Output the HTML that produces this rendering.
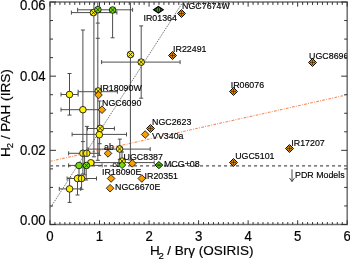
<!DOCTYPE html>
<html><head><meta charset="utf-8"><style>
html,body{margin:0;padding:0;background:#fff;}
svg{display:block;font-family:"Liberation Sans",sans-serif;}
</style></head><body>
<svg width="350" height="259" viewBox="0 0 350 259">
<rect width="350" height="259" fill="#fff"/>
<defs><clipPath id="pc"><rect x="50.0" y="2.0" width="297.2" height="222.5"/></clipPath></defs>
<g clip-path="url(#pc)">
<line x1="50.0" y1="208.4" x2="182.9" y2="2.0" stroke="#333" stroke-width="0.8" stroke-dasharray="1.1 1.1"/>
<line x1="50.0" y1="161.3" x2="347.2" y2="94.8" stroke="#f8895a" stroke-width="1.1" stroke-dasharray="2.7 1.3 0.9 1.3"/>
<line x1="50.0" y1="165.8" x2="347.2" y2="165.8" stroke="#555" stroke-width="1.2" stroke-dasharray="3.1 2.9"/>
<line x1="82.90" y1="30.00" x2="82.90" y2="141.60" stroke="#4d4d4d" stroke-width="1.0" />
<line x1="80.90" y1="30.00" x2="84.90" y2="30.00" stroke="#4d4d4d" stroke-width="1.0" />
<line x1="80.90" y1="141.60" x2="84.90" y2="141.60" stroke="#4d4d4d" stroke-width="1.0" />
<line x1="82.90" y1="141.60" x2="82.90" y2="153.30" stroke="#4d4d4d" stroke-width="1.0" />
<line x1="69.60" y1="178.00" x2="69.60" y2="188.90" stroke="#4d4d4d" stroke-width="1.0" />
<line x1="67.60" y1="178.00" x2="71.60" y2="178.00" stroke="#4d4d4d" stroke-width="1.0" />
<line x1="93.90" y1="2.00" x2="93.90" y2="156.80" stroke="#4d4d4d" stroke-width="1.0" />
<line x1="91.90" y1="156.80" x2="95.90" y2="156.80" stroke="#4d4d4d" stroke-width="1.0" />
<line x1="97.80" y1="2.00" x2="97.80" y2="23.10" stroke="#4d4d4d" stroke-width="1.0" />
<line x1="95.80" y1="23.10" x2="99.80" y2="23.10" stroke="#4d4d4d" stroke-width="1.0" />
<line x1="97.80" y1="23.10" x2="97.80" y2="38.30" stroke="#4d4d4d" stroke-width="1.0" />
<line x1="95.80" y1="38.30" x2="99.80" y2="38.30" stroke="#4d4d4d" stroke-width="1.0" />
<line x1="97.80" y1="38.30" x2="97.80" y2="160.30" stroke="#4d4d4d" stroke-width="1.0" />
<line x1="95.80" y1="160.30" x2="99.80" y2="160.30" stroke="#4d4d4d" stroke-width="1.0" />
<line x1="112.60" y1="10.00" x2="112.60" y2="37.80" stroke="#4d4d4d" stroke-width="1.0" />
<line x1="110.60" y1="37.80" x2="114.60" y2="37.80" stroke="#4d4d4d" stroke-width="1.0" />
<line x1="130.40" y1="2.00" x2="130.40" y2="160.00" stroke="#4d4d4d" stroke-width="1.0" />
<line x1="128.40" y1="160.00" x2="132.40" y2="160.00" stroke="#4d4d4d" stroke-width="1.0" />
<line x1="141.20" y1="25.90" x2="141.20" y2="98.20" stroke="#4d4d4d" stroke-width="1.0" />
<line x1="139.20" y1="25.90" x2="143.20" y2="25.90" stroke="#4d4d4d" stroke-width="1.0" />
<line x1="139.20" y1="98.20" x2="143.20" y2="98.20" stroke="#4d4d4d" stroke-width="1.0" />
<line x1="69.50" y1="73.50" x2="69.50" y2="115.10" stroke="#4d4d4d" stroke-width="1.0" />
<line x1="67.50" y1="73.50" x2="71.50" y2="73.50" stroke="#4d4d4d" stroke-width="1.0" />
<line x1="67.50" y1="115.10" x2="71.50" y2="115.10" stroke="#4d4d4d" stroke-width="1.0" />
<line x1="86.90" y1="126.40" x2="86.90" y2="153.30" stroke="#4d4d4d" stroke-width="1.0" />
<line x1="84.90" y1="126.40" x2="88.90" y2="126.40" stroke="#4d4d4d" stroke-width="1.0" />
<line x1="99.60" y1="101.00" x2="99.60" y2="143.70" stroke="#4d4d4d" stroke-width="1.0" />
<line x1="97.60" y1="101.00" x2="101.60" y2="101.00" stroke="#4d4d4d" stroke-width="1.0" />
<line x1="97.60" y1="143.70" x2="101.60" y2="143.70" stroke="#4d4d4d" stroke-width="1.0" />
<line x1="119.80" y1="139.10" x2="119.80" y2="159.40" stroke="#4d4d4d" stroke-width="1.0" />
<line x1="117.80" y1="139.10" x2="121.80" y2="139.10" stroke="#4d4d4d" stroke-width="1.0" />
<line x1="117.80" y1="159.40" x2="121.80" y2="159.40" stroke="#4d4d4d" stroke-width="1.0" />
<line x1="122.00" y1="152.00" x2="122.00" y2="159.40" stroke="#4d4d4d" stroke-width="1.0" />
<line x1="120.00" y1="152.00" x2="124.00" y2="152.00" stroke="#4d4d4d" stroke-width="1.0" />
<line x1="120.00" y1="159.40" x2="124.00" y2="159.40" stroke="#4d4d4d" stroke-width="1.0" />
<line x1="69.60" y1="188.90" x2="69.60" y2="202.40" stroke="#4d4d4d" stroke-width="1.0" />
<line x1="67.60" y1="202.40" x2="71.60" y2="202.40" stroke="#4d4d4d" stroke-width="1.0" />
<line x1="77.50" y1="178.50" x2="77.50" y2="195.00" stroke="#4d4d4d" stroke-width="1.0" />
<line x1="75.50" y1="195.00" x2="79.50" y2="195.00" stroke="#4d4d4d" stroke-width="1.0" />
<line x1="81.60" y1="178.50" x2="81.60" y2="189.30" stroke="#4d4d4d" stroke-width="1.0" />
<line x1="79.60" y1="189.30" x2="83.60" y2="189.30" stroke="#4d4d4d" stroke-width="1.0" />
<line x1="86.20" y1="165.50" x2="86.20" y2="180.00" stroke="#4d4d4d" stroke-width="1.0" />
<line x1="84.20" y1="180.00" x2="88.20" y2="180.00" stroke="#4d4d4d" stroke-width="1.0" />
<line x1="82.90" y1="153.30" x2="82.90" y2="174.00" stroke="#4d4d4d" stroke-width="1.0" />
<line x1="80.90" y1="174.00" x2="84.90" y2="174.00" stroke="#4d4d4d" stroke-width="1.0" />
<line x1="84.60" y1="153.30" x2="84.60" y2="174.80" stroke="#4d4d4d" stroke-width="1.0" />
<line x1="82.60" y1="174.80" x2="86.60" y2="174.80" stroke="#4d4d4d" stroke-width="1.0" />
<line x1="79.00" y1="165.50" x2="79.00" y2="175.00" stroke="#4d4d4d" stroke-width="1.0" />
<line x1="77.00" y1="175.00" x2="81.00" y2="175.00" stroke="#4d4d4d" stroke-width="1.0" />
<line x1="99.20" y1="143.70" x2="99.20" y2="155.40" stroke="#4d4d4d" stroke-width="1.0" />
<line x1="97.20" y1="155.40" x2="101.20" y2="155.40" stroke="#4d4d4d" stroke-width="1.0" />
<line x1="71.40" y1="12.60" x2="116.90" y2="12.60" stroke="#4d4d4d" stroke-width="1.0" />
<line x1="71.40" y1="10.60" x2="71.40" y2="14.60" stroke="#4d4d4d" stroke-width="1.0" />
<line x1="116.90" y1="10.60" x2="116.90" y2="14.60" stroke="#4d4d4d" stroke-width="1.0" />
<line x1="77.60" y1="9.80" x2="132.60" y2="9.80" stroke="#4d4d4d" stroke-width="1.0" />
<line x1="77.60" y1="7.80" x2="77.60" y2="11.80" stroke="#4d4d4d" stroke-width="1.0" />
<line x1="132.60" y1="7.80" x2="132.60" y2="11.80" stroke="#4d4d4d" stroke-width="1.0" />
<line x1="101.60" y1="62.10" x2="180.10" y2="62.10" stroke="#4d4d4d" stroke-width="1.0" />
<line x1="101.60" y1="60.10" x2="101.60" y2="64.10" stroke="#4d4d4d" stroke-width="1.0" />
<line x1="180.10" y1="60.10" x2="180.10" y2="64.10" stroke="#4d4d4d" stroke-width="1.0" />
<line x1="78.10" y1="91.70" x2="117.40" y2="91.70" stroke="#4d4d4d" stroke-width="1.0" />
<line x1="78.10" y1="89.70" x2="78.10" y2="93.70" stroke="#4d4d4d" stroke-width="1.0" />
<line x1="117.40" y1="89.70" x2="117.40" y2="93.70" stroke="#4d4d4d" stroke-width="1.0" />
<line x1="61.00" y1="94.50" x2="78.10" y2="94.50" stroke="#4d4d4d" stroke-width="1.0" />
<line x1="61.00" y1="92.50" x2="61.00" y2="96.50" stroke="#4d4d4d" stroke-width="1.0" />
<line x1="78.10" y1="92.50" x2="78.10" y2="96.50" stroke="#4d4d4d" stroke-width="1.0" />
<line x1="61.00" y1="109.70" x2="102.00" y2="109.70" stroke="#4d4d4d" stroke-width="1.0" />
<line x1="61.00" y1="107.70" x2="61.00" y2="111.70" stroke="#4d4d4d" stroke-width="1.0" />
<line x1="87.50" y1="128.50" x2="114.40" y2="128.50" stroke="#4d4d4d" stroke-width="1.0" />
<line x1="87.50" y1="126.50" x2="87.50" y2="130.50" stroke="#4d4d4d" stroke-width="1.0" />
<line x1="114.40" y1="126.50" x2="114.40" y2="130.50" stroke="#4d4d4d" stroke-width="1.0" />
<line x1="72.10" y1="134.40" x2="126.50" y2="134.40" stroke="#4d4d4d" stroke-width="1.0" />
<line x1="72.10" y1="132.40" x2="72.10" y2="136.40" stroke="#4d4d4d" stroke-width="1.0" />
<line x1="126.50" y1="132.40" x2="126.50" y2="136.40" stroke="#4d4d4d" stroke-width="1.0" />
<line x1="88.00" y1="149.10" x2="150.20" y2="149.10" stroke="#4d4d4d" stroke-width="1.0" />
<line x1="88.00" y1="147.10" x2="88.00" y2="151.10" stroke="#4d4d4d" stroke-width="1.0" />
<line x1="150.20" y1="147.10" x2="150.20" y2="151.10" stroke="#4d4d4d" stroke-width="1.0" />
<line x1="68.60" y1="153.30" x2="99.30" y2="153.30" stroke="#4d4d4d" stroke-width="1.0" />
<line x1="68.60" y1="151.30" x2="68.60" y2="155.30" stroke="#4d4d4d" stroke-width="1.0" />
<line x1="99.30" y1="151.30" x2="99.30" y2="155.30" stroke="#4d4d4d" stroke-width="1.0" />
<line x1="94.00" y1="162.60" x2="154.20" y2="162.60" stroke="#4d4d4d" stroke-width="1.0" />
<line x1="94.00" y1="160.60" x2="94.00" y2="164.60" stroke="#4d4d4d" stroke-width="1.0" />
<line x1="154.20" y1="160.60" x2="154.20" y2="164.60" stroke="#4d4d4d" stroke-width="1.0" />
<line x1="68.60" y1="165.40" x2="102.10" y2="165.40" stroke="#4d4d4d" stroke-width="1.0" />
<line x1="68.60" y1="163.40" x2="68.60" y2="167.40" stroke="#4d4d4d" stroke-width="1.0" />
<line x1="102.10" y1="163.40" x2="102.10" y2="167.40" stroke="#4d4d4d" stroke-width="1.0" />
<line x1="67.10" y1="178.50" x2="96.50" y2="178.50" stroke="#4d4d4d" stroke-width="1.0" />
<line x1="67.10" y1="176.50" x2="67.10" y2="180.50" stroke="#4d4d4d" stroke-width="1.0" />
<line x1="96.50" y1="176.50" x2="96.50" y2="180.50" stroke="#4d4d4d" stroke-width="1.0" />
<line x1="59.30" y1="188.90" x2="80.70" y2="188.90" stroke="#4d4d4d" stroke-width="1.0" />
<line x1="59.30" y1="186.90" x2="59.30" y2="190.90" stroke="#4d4d4d" stroke-width="1.0" />
<line x1="80.70" y1="186.90" x2="80.70" y2="190.90" stroke="#4d4d4d" stroke-width="1.0" />
<circle cx="69.5" cy="94.5" r="3.3" fill="#fff000" stroke="#1a1a1a" stroke-width="0.9"/>
<circle cx="82.9" cy="109.7" r="3.3" fill="#fff000" stroke="#1a1a1a" stroke-width="0.9"/>
<circle cx="99.3" cy="134.7" r="3.3" fill="#fff000" stroke="#1a1a1a" stroke-width="0.9"/>
<circle cx="82.9" cy="153.3" r="3.3" fill="#fff000" stroke="#1a1a1a" stroke-width="0.9"/>
<circle cx="86.7" cy="153.3" r="3.3" fill="#fff000" stroke="#1a1a1a" stroke-width="0.9"/>
<circle cx="90.8" cy="162.8" r="3.3" fill="#fff000" stroke="#1a1a1a" stroke-width="0.9"/>
<circle cx="77.5" cy="178.5" r="3.3" fill="#fff000" stroke="#1a1a1a" stroke-width="0.9"/>
<circle cx="81.5" cy="178.5" r="3.3" fill="#fff000" stroke="#1a1a1a" stroke-width="0.9"/>
<circle cx="69.6" cy="188.9" r="3.3" fill="#fff000" stroke="#1a1a1a" stroke-width="0.9"/>
<circle cx="93.4" cy="12.6" r="3.3" fill="#fff000" stroke="#1a1a1a" stroke-width="0.9"/>
<line x1="90.76" y1="9.96" x2="96.04" y2="15.24" stroke="#222" stroke-width="0.8" />
<line x1="90.76" y1="15.24" x2="96.04" y2="9.96" stroke="#222" stroke-width="0.8" />
<circle cx="130.5" cy="54.5" r="3.3" fill="#fff000" stroke="#1a1a1a" stroke-width="0.9"/>
<line x1="127.86" y1="51.86" x2="133.14" y2="57.14" stroke="#222" stroke-width="0.8" />
<line x1="127.86" y1="57.14" x2="133.14" y2="51.86" stroke="#222" stroke-width="0.8" />
<circle cx="141.2" cy="62.1" r="3.3" fill="#fff000" stroke="#1a1a1a" stroke-width="0.9"/>
<line x1="138.56" y1="59.46" x2="143.84" y2="64.74" stroke="#222" stroke-width="0.8" />
<line x1="138.56" y1="64.74" x2="143.84" y2="59.46" stroke="#222" stroke-width="0.8" />
<circle cx="98.2" cy="91.0" r="3.3" fill="#fff000" stroke="#1a1a1a" stroke-width="0.9"/>
<line x1="95.56" y1="88.36" x2="100.84" y2="93.64" stroke="#222" stroke-width="0.8" />
<line x1="95.56" y1="93.64" x2="100.84" y2="88.36" stroke="#222" stroke-width="0.8" />
<circle cx="100.2" cy="128.4" r="3.3" fill="#fff000" stroke="#1a1a1a" stroke-width="0.9"/>
<line x1="97.56" y1="125.76" x2="102.84" y2="131.04" stroke="#222" stroke-width="0.8" />
<line x1="97.56" y1="131.04" x2="102.84" y2="125.76" stroke="#222" stroke-width="0.8" />
<circle cx="119.6" cy="149.0" r="3.3" fill="#fff000" stroke="#1a1a1a" stroke-width="0.9"/>
<line x1="116.96" y1="146.36" x2="122.24" y2="151.64" stroke="#222" stroke-width="0.8" />
<line x1="116.96" y1="151.64" x2="122.24" y2="146.36" stroke="#222" stroke-width="0.8" />
<circle cx="122.1" cy="161.1" r="3.3" fill="#fff000" stroke="#1a1a1a" stroke-width="0.9"/>
<line x1="119.46" y1="158.46" x2="124.74" y2="163.74" stroke="#222" stroke-width="0.8" />
<line x1="119.46" y1="163.74" x2="124.74" y2="158.46" stroke="#222" stroke-width="0.8" />
<circle cx="97.9" cy="9.7" r="3.3" fill="#6ee000" stroke="#1a1a1a" stroke-width="0.9"/>
<line x1="95.26" y1="7.06" x2="100.54" y2="12.34" stroke="#222" stroke-width="0.8" />
<line x1="95.26" y1="12.34" x2="100.54" y2="7.06" stroke="#222" stroke-width="0.8" />
<circle cx="112.6" cy="10.0" r="3.3" fill="#6ee000" stroke="#1a1a1a" stroke-width="0.9"/>
<line x1="109.96" y1="7.36" x2="115.24" y2="12.64" stroke="#222" stroke-width="0.8" />
<line x1="109.96" y1="12.64" x2="115.24" y2="7.36" stroke="#222" stroke-width="0.8" />
<circle cx="86.4" cy="165.5" r="3.3" fill="#6ee000" stroke="#1a1a1a" stroke-width="0.9"/>
<line x1="83.76" y1="162.86" x2="89.04" y2="168.14" stroke="#222" stroke-width="0.8" />
<line x1="83.76" y1="168.14" x2="89.04" y2="162.86" stroke="#222" stroke-width="0.8" />
<circle cx="79.0" cy="165.5" r="3.3" fill="#6ee000" stroke="#1a1a1a" stroke-width="0.9"/>
<path d="M122.1 161.4L125.69999999999999 165.0L122.1 168.6L118.5 165.0Z" fill="#6ee000" stroke="#1a1a1a" stroke-width="0.9"/>
<path d="M153.6 9.7L158.4 6.4L163.2 9.7L158.4 13.0Z" fill="#30b800" stroke="#000" stroke-width="1.2"/>
<path d="M156.6 7.8Q155.4 9.7 156.6 11.6M160.2 7.8Q161.4 9.7 160.2 11.6" fill="none" stroke="#000" stroke-width="0.8"/>
<line x1="158.40" y1="7.50" x2="158.40" y2="11.90" stroke="#000" stroke-width="0.7" />
<path d="M155.0 165.1L158.9 161.6L162.8 165.1L158.9 168.6Z" fill="#55dc00" stroke="#000" stroke-width="1"/>
<line x1="156.60" y1="165.10" x2="161.20" y2="165.10" stroke="#000" stroke-width="0.8" />
<line x1="158.90" y1="163.50" x2="158.90" y2="166.70" stroke="#000" stroke-width="0.5" />
<path d="M181.5 9.55L185.45 13.5L181.5 17.45L177.55 13.5Z" fill="#ffa600" stroke="#000" stroke-width="1.0"/>
<circle cx="181.5" cy="13.5" r="2.0" fill="none" stroke="#6a3a00" stroke-width="0.5"/>
<line x1="179.00" y1="13.50" x2="184.00" y2="13.50" stroke="#3a2000" stroke-width="0.7" />
<line x1="181.50" y1="11.00" x2="181.50" y2="16.00" stroke="#3a2000" stroke-width="0.7" />
<path d="M172.5 51.55L176.45 55.5L172.5 59.45L168.55 55.5Z" fill="#ffa600" stroke="#000" stroke-width="1.0"/>
<circle cx="172.5" cy="55.5" r="2.0" fill="none" stroke="#6a3a00" stroke-width="0.5"/>
<line x1="170.00" y1="55.50" x2="175.00" y2="55.50" stroke="#3a2000" stroke-width="0.7" />
<line x1="172.50" y1="53.00" x2="172.50" y2="58.00" stroke="#3a2000" stroke-width="0.7" />
<path d="M312.5 58.55L316.45 62.5L312.5 66.45L308.55 62.5Z" fill="#ffa600" stroke="#000" stroke-width="1.0"/>
<circle cx="312.5" cy="62.5" r="2.0" fill="none" stroke="#6a3a00" stroke-width="0.5"/>
<line x1="310.00" y1="62.50" x2="315.00" y2="62.50" stroke="#3a2000" stroke-width="0.7" />
<line x1="312.50" y1="60.00" x2="312.50" y2="65.00" stroke="#3a2000" stroke-width="0.7" />
<path d="M233.5 87.55L237.45 91.5L233.5 95.45L229.55 91.5Z" fill="#ffa600" stroke="#000" stroke-width="1.0"/>
<circle cx="233.5" cy="91.5" r="2.0" fill="none" stroke="#6a3a00" stroke-width="0.5"/>
<line x1="231.00" y1="91.50" x2="236.00" y2="91.50" stroke="#3a2000" stroke-width="0.7" />
<line x1="233.50" y1="89.00" x2="233.50" y2="94.00" stroke="#3a2000" stroke-width="0.7" />
<path d="M98.5 91.2L102.3 95.0L98.5 98.8L94.7 95.0Z" fill="#f5a000" stroke="#1a1a1a" stroke-width="0.9"/>
<path d="M102.0 105.9L105.8 109.7L102.0 113.5L98.2 109.7Z" fill="#f5a000" stroke="#1a1a1a" stroke-width="0.9"/>
<path d="M150.5 124.55L154.45 128.5L150.5 132.45L146.55 128.5Z" fill="#ffa600" stroke="#000" stroke-width="1.0"/>
<circle cx="150.5" cy="128.5" r="2.0" fill="none" stroke="#6a3a00" stroke-width="0.5"/>
<line x1="148.00" y1="128.50" x2="153.00" y2="128.50" stroke="#3a2000" stroke-width="0.7" />
<line x1="150.50" y1="126.00" x2="150.50" y2="131.00" stroke="#3a2000" stroke-width="0.7" />
<path d="M145.2 130.7L149.0 134.5L145.2 138.3L141.39999999999998 134.5Z" fill="#f5a000" stroke="#1a1a1a" stroke-width="0.9"/>
<path d="M108.0 149.6L111.8 153.4L108.0 157.20000000000002L104.2 153.4Z" fill="#f5a000" stroke="#1a1a1a" stroke-width="0.9"/>
<path d="M132.3 159.6L136.10000000000002 163.4L132.3 167.20000000000002L128.5 163.4Z" fill="#f5a000" stroke="#1a1a1a" stroke-width="0.9"/>
<path d="M111.1 174.7L114.89999999999999 178.5L111.1 182.3L107.3 178.5Z" fill="#f5a000" stroke="#1a1a1a" stroke-width="0.9"/>
<path d="M141.8 174.7L145.60000000000002 178.5L141.8 182.3L138.0 178.5Z" fill="#f5a000" stroke="#1a1a1a" stroke-width="0.9"/>
<path d="M110.1 184.39999999999998L113.89999999999999 188.2L110.1 192.0L106.3 188.2Z" fill="#f5a000" stroke="#1a1a1a" stroke-width="0.9"/>
<path d="M233.5 158.55L237.45 162.5L233.5 166.45L229.55 162.5Z" fill="#ffa600" stroke="#000" stroke-width="1.0"/>
<circle cx="233.5" cy="162.5" r="2.0" fill="none" stroke="#6a3a00" stroke-width="0.5"/>
<line x1="231.00" y1="162.50" x2="236.00" y2="162.50" stroke="#3a2000" stroke-width="0.7" />
<line x1="233.50" y1="160.00" x2="233.50" y2="165.00" stroke="#3a2000" stroke-width="0.7" />
<path d="M289.5 144.55L293.45 148.5L289.5 152.45L285.55 148.5Z" fill="#ffa600" stroke="#000" stroke-width="1.0"/>
<circle cx="289.5" cy="148.5" r="2.0" fill="none" stroke="#6a3a00" stroke-width="0.5"/>
<line x1="287.00" y1="148.50" x2="292.00" y2="148.50" stroke="#3a2000" stroke-width="0.7" />
<line x1="289.50" y1="146.00" x2="289.50" y2="151.00" stroke="#3a2000" stroke-width="0.7" />
<line x1="82.90" y1="149.60" x2="82.90" y2="157.00" stroke="#4d4d4d" stroke-width="1.0" />
<line x1="86.90" y1="149.60" x2="86.90" y2="157.00" stroke="#4d4d4d" stroke-width="1.0" />
<line x1="81.60" y1="175.00" x2="81.60" y2="182.00" stroke="#4d4d4d" stroke-width="1.0" />
<line x1="292.00" y1="169.40" x2="292.00" y2="181.50" stroke="#333" stroke-width="0.9" />
<line x1="289.50" y1="178.00" x2="292.00" y2="181.50" stroke="#333" stroke-width="0.9" />
<line x1="294.50" y1="178.00" x2="292.00" y2="181.50" stroke="#333" stroke-width="0.9" />
</g>
<g fill="#000" style="filter:opacity(0.995)">
<text x="182.1" y="9.2" font-size="8.85" stroke="#000" stroke-width="0.16">NGC7674W</text>
<text x="143.5" y="21.3" font-size="8.85" stroke="#000" stroke-width="0.16">IR01364</text>
<text x="173.1" y="51.6" font-size="8.85" stroke="#000" stroke-width="0.16">IR22491</text>
<text x="309.1" y="59.1" font-size="8.85" stroke="#000" stroke-width="0.16">UGC8696</text>
<text x="230.7" y="87.9" font-size="8.85" stroke="#000" stroke-width="0.16">IR06076</text>
<text x="100.0" y="90.5" font-size="8.85" stroke="#000" stroke-width="0.16">IR18090W</text>
<text x="102.0" y="106.1" font-size="8.85" stroke="#000" stroke-width="0.16">NGC6090</text>
<text x="152.0" y="125.1" font-size="8.85" stroke="#000" stroke-width="0.16">NGC2623</text>
<text x="152.0" y="139.2" font-size="8.85" stroke="#000" stroke-width="0.16">VV340a</text>
<text x="104.0" y="150.2" font-size="8.85" stroke="#000" stroke-width="0.16">ab</text>
<text x="123.6" y="160.3" font-size="8.85" stroke="#000" stroke-width="0.16">UGC8387</text>
<text x="164.0" y="166.7" font-size="8.85" stroke="#000" stroke-width="0.16">MCG+08</text>
<text x="102.0" y="175.1" font-size="8.85" stroke="#000" stroke-width="0.16">IR18090E</text>
<text x="144.6" y="178.9" font-size="8.85" stroke="#000" stroke-width="0.16">IR20351</text>
<text x="115.1" y="190.2" font-size="8.85" stroke="#000" stroke-width="0.16">NGC6670E</text>
<text x="235.2" y="158.7" font-size="8.85" stroke="#000" stroke-width="0.16">UGC5101</text>
<text x="291.3" y="145.8" font-size="8.85" stroke="#000" stroke-width="0.16">IR17207</text>
<text x="295.0" y="177.5" font-size="8.85" stroke="#000" stroke-width="0.16">PDR Models</text>
<text x="112.6" y="166.8" font-size="8.85" stroke="#000" stroke-width="0.16"><tspan font-size="7.2">cc</tspan></text>
</g>
<rect x="50.0" y="2.0" width="297.2" height="222.5" fill="none" stroke="#707070" stroke-width="1.5"/>
<line x1="50.00" y1="224.5" x2="50.00" y2="220.3" stroke="#333" stroke-width="1"/>
<line x1="50.00" y1="2.0" x2="50.00" y2="6.6" stroke="#333" stroke-width="1"/>
<line x1="54.95" y1="224.5" x2="54.95" y2="222.1" stroke="#333" stroke-width="1"/>
<line x1="54.95" y1="2.0" x2="54.95" y2="4.9" stroke="#333" stroke-width="1"/>
<line x1="59.91" y1="224.5" x2="59.91" y2="222.1" stroke="#333" stroke-width="1"/>
<line x1="59.91" y1="2.0" x2="59.91" y2="4.9" stroke="#333" stroke-width="1"/>
<line x1="64.86" y1="224.5" x2="64.86" y2="222.1" stroke="#333" stroke-width="1"/>
<line x1="64.86" y1="2.0" x2="64.86" y2="4.9" stroke="#333" stroke-width="1"/>
<line x1="69.81" y1="224.5" x2="69.81" y2="222.1" stroke="#333" stroke-width="1"/>
<line x1="69.81" y1="2.0" x2="69.81" y2="4.9" stroke="#333" stroke-width="1"/>
<line x1="74.77" y1="224.5" x2="74.77" y2="222.1" stroke="#333" stroke-width="1"/>
<line x1="74.77" y1="2.0" x2="74.77" y2="4.9" stroke="#333" stroke-width="1"/>
<line x1="79.72" y1="224.5" x2="79.72" y2="222.1" stroke="#333" stroke-width="1"/>
<line x1="79.72" y1="2.0" x2="79.72" y2="4.9" stroke="#333" stroke-width="1"/>
<line x1="84.67" y1="224.5" x2="84.67" y2="222.1" stroke="#333" stroke-width="1"/>
<line x1="84.67" y1="2.0" x2="84.67" y2="4.9" stroke="#333" stroke-width="1"/>
<line x1="89.63" y1="224.5" x2="89.63" y2="222.1" stroke="#333" stroke-width="1"/>
<line x1="89.63" y1="2.0" x2="89.63" y2="4.9" stroke="#333" stroke-width="1"/>
<line x1="94.58" y1="224.5" x2="94.58" y2="222.1" stroke="#333" stroke-width="1"/>
<line x1="94.58" y1="2.0" x2="94.58" y2="4.9" stroke="#333" stroke-width="1"/>
<line x1="99.53" y1="224.5" x2="99.53" y2="220.3" stroke="#333" stroke-width="1"/>
<line x1="99.53" y1="2.0" x2="99.53" y2="6.6" stroke="#333" stroke-width="1"/>
<line x1="104.49" y1="224.5" x2="104.49" y2="222.1" stroke="#333" stroke-width="1"/>
<line x1="104.49" y1="2.0" x2="104.49" y2="4.9" stroke="#333" stroke-width="1"/>
<line x1="109.44" y1="224.5" x2="109.44" y2="222.1" stroke="#333" stroke-width="1"/>
<line x1="109.44" y1="2.0" x2="109.44" y2="4.9" stroke="#333" stroke-width="1"/>
<line x1="114.39" y1="224.5" x2="114.39" y2="222.1" stroke="#333" stroke-width="1"/>
<line x1="114.39" y1="2.0" x2="114.39" y2="4.9" stroke="#333" stroke-width="1"/>
<line x1="119.35" y1="224.5" x2="119.35" y2="222.1" stroke="#333" stroke-width="1"/>
<line x1="119.35" y1="2.0" x2="119.35" y2="4.9" stroke="#333" stroke-width="1"/>
<line x1="124.30" y1="224.5" x2="124.30" y2="222.1" stroke="#333" stroke-width="1"/>
<line x1="124.30" y1="2.0" x2="124.30" y2="4.9" stroke="#333" stroke-width="1"/>
<line x1="129.25" y1="224.5" x2="129.25" y2="222.1" stroke="#333" stroke-width="1"/>
<line x1="129.25" y1="2.0" x2="129.25" y2="4.9" stroke="#333" stroke-width="1"/>
<line x1="134.21" y1="224.5" x2="134.21" y2="222.1" stroke="#333" stroke-width="1"/>
<line x1="134.21" y1="2.0" x2="134.21" y2="4.9" stroke="#333" stroke-width="1"/>
<line x1="139.16" y1="224.5" x2="139.16" y2="222.1" stroke="#333" stroke-width="1"/>
<line x1="139.16" y1="2.0" x2="139.16" y2="4.9" stroke="#333" stroke-width="1"/>
<line x1="144.11" y1="224.5" x2="144.11" y2="222.1" stroke="#333" stroke-width="1"/>
<line x1="144.11" y1="2.0" x2="144.11" y2="4.9" stroke="#333" stroke-width="1"/>
<line x1="149.07" y1="224.5" x2="149.07" y2="220.3" stroke="#333" stroke-width="1"/>
<line x1="149.07" y1="2.0" x2="149.07" y2="6.6" stroke="#333" stroke-width="1"/>
<line x1="154.02" y1="224.5" x2="154.02" y2="222.1" stroke="#333" stroke-width="1"/>
<line x1="154.02" y1="2.0" x2="154.02" y2="4.9" stroke="#333" stroke-width="1"/>
<line x1="158.97" y1="224.5" x2="158.97" y2="222.1" stroke="#333" stroke-width="1"/>
<line x1="158.97" y1="2.0" x2="158.97" y2="4.9" stroke="#333" stroke-width="1"/>
<line x1="163.93" y1="224.5" x2="163.93" y2="222.1" stroke="#333" stroke-width="1"/>
<line x1="163.93" y1="2.0" x2="163.93" y2="4.9" stroke="#333" stroke-width="1"/>
<line x1="168.88" y1="224.5" x2="168.88" y2="222.1" stroke="#333" stroke-width="1"/>
<line x1="168.88" y1="2.0" x2="168.88" y2="4.9" stroke="#333" stroke-width="1"/>
<line x1="173.83" y1="224.5" x2="173.83" y2="222.1" stroke="#333" stroke-width="1"/>
<line x1="173.83" y1="2.0" x2="173.83" y2="4.9" stroke="#333" stroke-width="1"/>
<line x1="178.79" y1="224.5" x2="178.79" y2="222.1" stroke="#333" stroke-width="1"/>
<line x1="178.79" y1="2.0" x2="178.79" y2="4.9" stroke="#333" stroke-width="1"/>
<line x1="183.74" y1="224.5" x2="183.74" y2="222.1" stroke="#333" stroke-width="1"/>
<line x1="183.74" y1="2.0" x2="183.74" y2="4.9" stroke="#333" stroke-width="1"/>
<line x1="188.69" y1="224.5" x2="188.69" y2="222.1" stroke="#333" stroke-width="1"/>
<line x1="188.69" y1="2.0" x2="188.69" y2="4.9" stroke="#333" stroke-width="1"/>
<line x1="193.65" y1="224.5" x2="193.65" y2="222.1" stroke="#333" stroke-width="1"/>
<line x1="193.65" y1="2.0" x2="193.65" y2="4.9" stroke="#333" stroke-width="1"/>
<line x1="198.60" y1="224.5" x2="198.60" y2="220.3" stroke="#333" stroke-width="1"/>
<line x1="198.60" y1="2.0" x2="198.60" y2="6.6" stroke="#333" stroke-width="1"/>
<line x1="203.55" y1="224.5" x2="203.55" y2="222.1" stroke="#333" stroke-width="1"/>
<line x1="203.55" y1="2.0" x2="203.55" y2="4.9" stroke="#333" stroke-width="1"/>
<line x1="208.51" y1="224.5" x2="208.51" y2="222.1" stroke="#333" stroke-width="1"/>
<line x1="208.51" y1="2.0" x2="208.51" y2="4.9" stroke="#333" stroke-width="1"/>
<line x1="213.46" y1="224.5" x2="213.46" y2="222.1" stroke="#333" stroke-width="1"/>
<line x1="213.46" y1="2.0" x2="213.46" y2="4.9" stroke="#333" stroke-width="1"/>
<line x1="218.41" y1="224.5" x2="218.41" y2="222.1" stroke="#333" stroke-width="1"/>
<line x1="218.41" y1="2.0" x2="218.41" y2="4.9" stroke="#333" stroke-width="1"/>
<line x1="223.37" y1="224.5" x2="223.37" y2="222.1" stroke="#333" stroke-width="1"/>
<line x1="223.37" y1="2.0" x2="223.37" y2="4.9" stroke="#333" stroke-width="1"/>
<line x1="228.32" y1="224.5" x2="228.32" y2="222.1" stroke="#333" stroke-width="1"/>
<line x1="228.32" y1="2.0" x2="228.32" y2="4.9" stroke="#333" stroke-width="1"/>
<line x1="233.27" y1="224.5" x2="233.27" y2="222.1" stroke="#333" stroke-width="1"/>
<line x1="233.27" y1="2.0" x2="233.27" y2="4.9" stroke="#333" stroke-width="1"/>
<line x1="238.23" y1="224.5" x2="238.23" y2="222.1" stroke="#333" stroke-width="1"/>
<line x1="238.23" y1="2.0" x2="238.23" y2="4.9" stroke="#333" stroke-width="1"/>
<line x1="243.18" y1="224.5" x2="243.18" y2="222.1" stroke="#333" stroke-width="1"/>
<line x1="243.18" y1="2.0" x2="243.18" y2="4.9" stroke="#333" stroke-width="1"/>
<line x1="248.13" y1="224.5" x2="248.13" y2="220.3" stroke="#333" stroke-width="1"/>
<line x1="248.13" y1="2.0" x2="248.13" y2="6.6" stroke="#333" stroke-width="1"/>
<line x1="253.09" y1="224.5" x2="253.09" y2="222.1" stroke="#333" stroke-width="1"/>
<line x1="253.09" y1="2.0" x2="253.09" y2="4.9" stroke="#333" stroke-width="1"/>
<line x1="258.04" y1="224.5" x2="258.04" y2="222.1" stroke="#333" stroke-width="1"/>
<line x1="258.04" y1="2.0" x2="258.04" y2="4.9" stroke="#333" stroke-width="1"/>
<line x1="262.99" y1="224.5" x2="262.99" y2="222.1" stroke="#333" stroke-width="1"/>
<line x1="262.99" y1="2.0" x2="262.99" y2="4.9" stroke="#333" stroke-width="1"/>
<line x1="267.95" y1="224.5" x2="267.95" y2="222.1" stroke="#333" stroke-width="1"/>
<line x1="267.95" y1="2.0" x2="267.95" y2="4.9" stroke="#333" stroke-width="1"/>
<line x1="272.90" y1="224.5" x2="272.90" y2="222.1" stroke="#333" stroke-width="1"/>
<line x1="272.90" y1="2.0" x2="272.90" y2="4.9" stroke="#333" stroke-width="1"/>
<line x1="277.85" y1="224.5" x2="277.85" y2="222.1" stroke="#333" stroke-width="1"/>
<line x1="277.85" y1="2.0" x2="277.85" y2="4.9" stroke="#333" stroke-width="1"/>
<line x1="282.81" y1="224.5" x2="282.81" y2="222.1" stroke="#333" stroke-width="1"/>
<line x1="282.81" y1="2.0" x2="282.81" y2="4.9" stroke="#333" stroke-width="1"/>
<line x1="287.76" y1="224.5" x2="287.76" y2="222.1" stroke="#333" stroke-width="1"/>
<line x1="287.76" y1="2.0" x2="287.76" y2="4.9" stroke="#333" stroke-width="1"/>
<line x1="292.71" y1="224.5" x2="292.71" y2="222.1" stroke="#333" stroke-width="1"/>
<line x1="292.71" y1="2.0" x2="292.71" y2="4.9" stroke="#333" stroke-width="1"/>
<line x1="297.67" y1="224.5" x2="297.67" y2="220.3" stroke="#333" stroke-width="1"/>
<line x1="297.67" y1="2.0" x2="297.67" y2="6.6" stroke="#333" stroke-width="1"/>
<line x1="302.62" y1="224.5" x2="302.62" y2="222.1" stroke="#333" stroke-width="1"/>
<line x1="302.62" y1="2.0" x2="302.62" y2="4.9" stroke="#333" stroke-width="1"/>
<line x1="307.57" y1="224.5" x2="307.57" y2="222.1" stroke="#333" stroke-width="1"/>
<line x1="307.57" y1="2.0" x2="307.57" y2="4.9" stroke="#333" stroke-width="1"/>
<line x1="312.53" y1="224.5" x2="312.53" y2="222.1" stroke="#333" stroke-width="1"/>
<line x1="312.53" y1="2.0" x2="312.53" y2="4.9" stroke="#333" stroke-width="1"/>
<line x1="317.48" y1="224.5" x2="317.48" y2="222.1" stroke="#333" stroke-width="1"/>
<line x1="317.48" y1="2.0" x2="317.48" y2="4.9" stroke="#333" stroke-width="1"/>
<line x1="322.43" y1="224.5" x2="322.43" y2="222.1" stroke="#333" stroke-width="1"/>
<line x1="322.43" y1="2.0" x2="322.43" y2="4.9" stroke="#333" stroke-width="1"/>
<line x1="327.39" y1="224.5" x2="327.39" y2="222.1" stroke="#333" stroke-width="1"/>
<line x1="327.39" y1="2.0" x2="327.39" y2="4.9" stroke="#333" stroke-width="1"/>
<line x1="332.34" y1="224.5" x2="332.34" y2="222.1" stroke="#333" stroke-width="1"/>
<line x1="332.34" y1="2.0" x2="332.34" y2="4.9" stroke="#333" stroke-width="1"/>
<line x1="337.29" y1="224.5" x2="337.29" y2="222.1" stroke="#333" stroke-width="1"/>
<line x1="337.29" y1="2.0" x2="337.29" y2="4.9" stroke="#333" stroke-width="1"/>
<line x1="342.25" y1="224.5" x2="342.25" y2="222.1" stroke="#333" stroke-width="1"/>
<line x1="342.25" y1="2.0" x2="342.25" y2="4.9" stroke="#333" stroke-width="1"/>
<line x1="347.20" y1="224.5" x2="347.20" y2="220.3" stroke="#333" stroke-width="1"/>
<line x1="347.20" y1="2.0" x2="347.20" y2="6.6" stroke="#333" stroke-width="1"/>
<line x1="50.0" y1="224.50" x2="56.0" y2="224.50" stroke="#333" stroke-width="1"/>
<line x1="347.2" y1="224.50" x2="341.2" y2="224.50" stroke="#333" stroke-width="1"/>
<line x1="50.0" y1="205.96" x2="53.0" y2="205.96" stroke="#333" stroke-width="1"/>
<line x1="347.2" y1="205.96" x2="344.2" y2="205.96" stroke="#333" stroke-width="1"/>
<line x1="50.0" y1="187.42" x2="53.0" y2="187.42" stroke="#333" stroke-width="1"/>
<line x1="347.2" y1="187.42" x2="344.2" y2="187.42" stroke="#333" stroke-width="1"/>
<line x1="50.0" y1="168.88" x2="53.0" y2="168.88" stroke="#333" stroke-width="1"/>
<line x1="347.2" y1="168.88" x2="344.2" y2="168.88" stroke="#333" stroke-width="1"/>
<line x1="50.0" y1="150.33" x2="56.0" y2="150.33" stroke="#333" stroke-width="1"/>
<line x1="347.2" y1="150.33" x2="341.2" y2="150.33" stroke="#333" stroke-width="1"/>
<line x1="50.0" y1="131.79" x2="53.0" y2="131.79" stroke="#333" stroke-width="1"/>
<line x1="347.2" y1="131.79" x2="344.2" y2="131.79" stroke="#333" stroke-width="1"/>
<line x1="50.0" y1="113.25" x2="53.0" y2="113.25" stroke="#333" stroke-width="1"/>
<line x1="347.2" y1="113.25" x2="344.2" y2="113.25" stroke="#333" stroke-width="1"/>
<line x1="50.0" y1="94.71" x2="53.0" y2="94.71" stroke="#333" stroke-width="1"/>
<line x1="347.2" y1="94.71" x2="344.2" y2="94.71" stroke="#333" stroke-width="1"/>
<line x1="50.0" y1="76.17" x2="56.0" y2="76.17" stroke="#333" stroke-width="1"/>
<line x1="347.2" y1="76.17" x2="341.2" y2="76.17" stroke="#333" stroke-width="1"/>
<line x1="50.0" y1="57.62" x2="53.0" y2="57.62" stroke="#333" stroke-width="1"/>
<line x1="347.2" y1="57.62" x2="344.2" y2="57.62" stroke="#333" stroke-width="1"/>
<line x1="50.0" y1="39.08" x2="53.0" y2="39.08" stroke="#333" stroke-width="1"/>
<line x1="347.2" y1="39.08" x2="344.2" y2="39.08" stroke="#333" stroke-width="1"/>
<line x1="50.0" y1="20.54" x2="53.0" y2="20.54" stroke="#333" stroke-width="1"/>
<line x1="347.2" y1="20.54" x2="344.2" y2="20.54" stroke="#333" stroke-width="1"/>
<line x1="50.0" y1="2.00" x2="56.0" y2="2.00" stroke="#333" stroke-width="1"/>
<line x1="347.2" y1="2.00" x2="341.2" y2="2.00" stroke="#333" stroke-width="1"/>
<g fill="#000" opacity="0.99">
<text transform="translate(50.00,241.3) scale(1,1.09)" font-size="13.2" stroke="#000" stroke-width="0.2" text-anchor="middle">0</text>
<text transform="translate(99.53,241.3) scale(1,1.09)" font-size="13.2" stroke="#000" stroke-width="0.2" text-anchor="middle">1</text>
<text transform="translate(149.07,241.3) scale(1,1.09)" font-size="13.2" stroke="#000" stroke-width="0.2" text-anchor="middle">2</text>
<text transform="translate(198.60,241.3) scale(1,1.09)" font-size="13.2" stroke="#000" stroke-width="0.2" text-anchor="middle">3</text>
<text transform="translate(248.13,241.3) scale(1,1.09)" font-size="13.2" stroke="#000" stroke-width="0.2" text-anchor="middle">4</text>
<text transform="translate(297.67,241.3) scale(1,1.09)" font-size="13.2" stroke="#000" stroke-width="0.2" text-anchor="middle">5</text>
<text transform="translate(347.20,241.3) scale(1,1.09)" font-size="13.2" stroke="#000" stroke-width="0.2" text-anchor="middle">6</text>
<text transform="translate(45.6,9.7) scale(1,1.09)" font-size="13.2" stroke="#000" stroke-width="0.2" text-anchor="end">0.06</text>
<text transform="translate(45.6,80.8) scale(1,1.09)" font-size="13.2" stroke="#000" stroke-width="0.2" text-anchor="end">0.04</text>
<text transform="translate(45.6,155.1) scale(1,1.09)" font-size="13.2" stroke="#000" stroke-width="0.2" text-anchor="end">0.02</text>
<text transform="translate(45.6,224.7) scale(1,1.09)" font-size="13.2" stroke="#000" stroke-width="0.2" text-anchor="end">0.00</text>
<text x="150.0" y="255.4" font-size="13.5" stroke="#000" stroke-width="0.2">H<tspan font-size="9.6" dy="3.6" dx="-1.2">2</tspan><tspan dy="-3.6" dx="-0.3"> / Br&#947; (OSIRIS)</tspan></text>
<text transform="translate(9.8,157.0) rotate(-90)" font-size="13.65" stroke="#000" stroke-width="0.2">H<tspan font-size="9.6" dy="2.8" dx="-1.0">2</tspan><tspan dy="-2.8" dx="-0.3"> / PAH (IRS)</tspan></text>
</g>
</svg>
</body></html>
